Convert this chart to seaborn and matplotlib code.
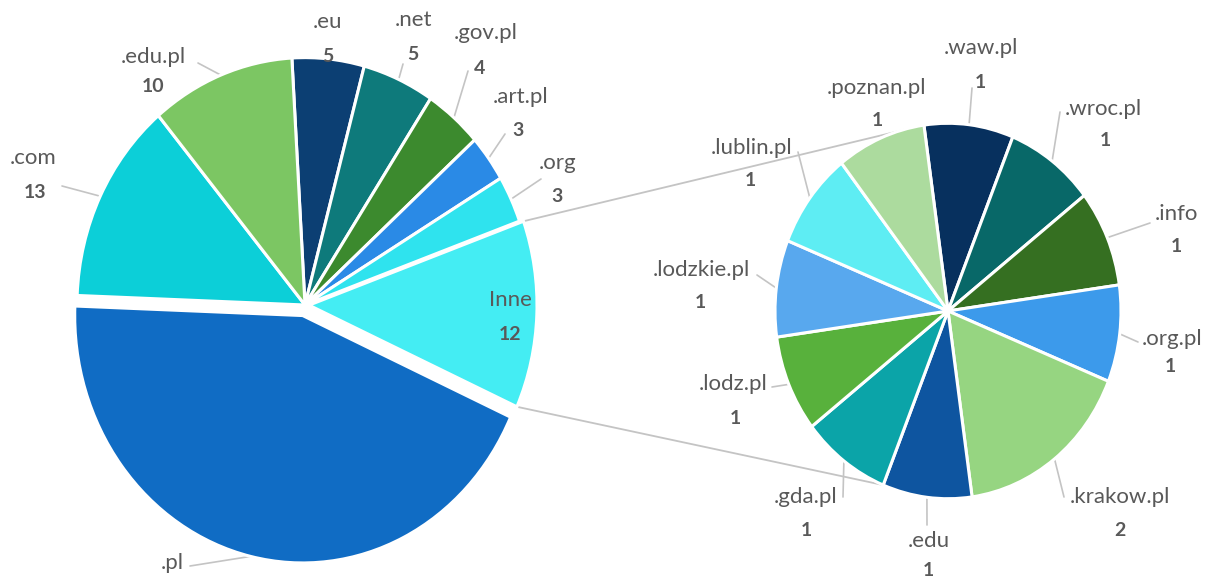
import matplotlib
matplotlib.use("Agg")
import matplotlib.pyplot as plt
import numpy as np
import seaborn as sns

# Main pie: number of sites per domain
main_labels = [".eu", ".net", ".gov.pl", ".art.pl", ".org", "Inne", ".pl", ".com", ".edu.pl"]
main_values = [5, 5, 4, 3, 3, 12, 43, 13, 10]
main_colors = ["#0c3f73", "#0e7a7b", "#3c8a2e", "#2a8ae6", "#2fe3ee",
               "#44edf3", "#106cc4", "#0ccfd8", "#7cc663"]

# Secondary pie: breakdown of "Inne"
sub_labels = [".waw.pl", ".wroc.pl", ".info", ".org.pl", ".krakow.pl", ".edu",
              ".gda.pl", ".lodz.pl", ".lodzkie.pl", ".lublin.pl", ".poznan.pl"]
sub_values = [1, 1, 1, 1, 2, 1, 1, 1, 1, 1, 1]
sub_colors = ["#07305e", "#086868", "#356f21", "#3c9aeb", "#96d581", "#0e55a0",
              "#0ba4a8", "#58b13c", "#58a8ee", "#5eedf3", "#acdb9e"]

# Labels whose value is not printed
hidden_values = {".pl"}

sns.set_theme(style="white")
plt.rcParams["font.family"] = ["Lato", "DejaVu Sans"]

W, H = 1205, 580
SY = 1.085  # vertical scale of the canvas
TEXT = "#595959"
LINE = "#c4c4c4"


def P(x, y):
    """Canvas pixel position -> axes data coordinates."""
    return x, (H - y) / SY


fig = plt.figure(figsize=(W / 100, H / 100), dpi=100)
ax = fig.add_axes([0, 0, 1, 1])

# geometry of the two pies
main_center, main_r, main_start = P(305, 305), 228, 93.3
sub_center, sub_r, sub_start = P(948, 311), 173, 98.0
# pulled-out slices, offset in data units
explode_map = {"Inne": 4, ".pl": 10}
main_explode = [explode_map.get(n, 0) for n in main_labels]

wp = dict(edgecolor="white", linewidth=2.2, antialiased=True)
ax.pie(main_values, colors=main_colors, startangle=main_start, counterclock=False,
       center=main_center, radius=main_r, explode=main_explode, wedgeprops=wp)
ax.pie(sub_values, colors=sub_colors, startangle=sub_start, counterclock=False,
       center=sub_center, radius=sub_r, wedgeprops=wp)
ax.set_aspect("auto")
ax.set_xlim(0, W)
ax.set_ylim(0, H / SY)
ax.axis("off")


def slice_angles(values, start):
    cum = np.concatenate([[0], np.cumsum(values)]) / np.sum(values)
    a = start - 360 * cum
    return a[:-1], a[1:]


def edge_point(center, r, ang, shift=0.0, shift_ang=0.0):
    t = np.deg2rad(ang)
    s = np.deg2rad(shift_ang)
    x = center[0] + r * np.cos(t) + shift * np.cos(s)
    y = center[1] + r * np.sin(t) + shift * np.sin(s)
    return x, y


# connector lines between the "Inne" slice and the secondary pie
m_a0, m_a1 = slice_angles(main_values, main_start)
s_a0, s_a1 = slice_angles(sub_values, sub_start)
k = main_labels.index("Inne")
mid_inne = (m_a0[k] + m_a1[k]) / 2
top_left = edge_point(main_center, main_r, m_a0[k], main_explode[k], mid_inne)
bot_left = edge_point(main_center, main_r, m_a1[k], main_explode[k], mid_inne)
top_right = edge_point(sub_center, sub_r, s_a0[0])
bot_right = edge_point(sub_center, sub_r, s_a1[sub_labels.index(".edu")])
for a, b in [(top_left, top_right), (bot_left, bot_right)]:
    ax.plot([a[0], b[0]], [a[1], b[1]], color=LINE, lw=1.3, zorder=0.5)

# label layout: name centre, value centre, leader anchor (pixels)
main_layout = {
    ".eu": ((327, 22), (328, 57), None),
    ".net": ((413, 20), (413, 55), (403, 64)),
    ".gov.pl": ((486, 33), (480, 68), (468, 71)),
    ".art.pl": ((521, 97), (518, 130), (505, 134)),
    ".org": ((558, 163), (557, 197), (541, 179)),
    "Inne": ((510, 300), (510, 334), None),
    ".pl": ((172, 563), None, (190, 566)),
    ".com": ((33, 158), (35, 193), (62, 186)),
    ".edu.pl": ((153, 57), (153, 86), (198, 63)),
}
sub_layout = {
    ".waw.pl": ((981, 48), (980, 83), (972, 88)),
    ".wroc.pl": ((1103, 109), (1105, 140), (1060, 112)),
    ".info": ((1176, 214), (1176, 247), (1150, 223)),
    ".org.pl": ((1172, 339), (1170, 367), (1138, 342)),
    ".krakow.pl": ((1120, 497), (1120, 531), (1064, 497)),
    ".edu": ((929, 541), (928, 571), (927, 525)),
    ".gda.pl": ((806, 497), (806, 531), (843, 497)),
    ".lodz.pl": ((733, 384), (735, 418), (772, 387)),
    ".lodzkie.pl": ((701, 270), (700, 303), (757, 275)),
    ".lublin.pl": ((752, 148), (750, 181), (798, 152)),
    ".poznan.pl": ((876, 88), (877, 121), None),
}


def draw_labels(labels, values, layout, center, r, a0, a1, explode=None):
    for i, (name, val) in enumerate(zip(labels, values)):
        name_xy, val_xy, anchor = layout[name]
        if anchor is not None:
            mid = (a0[i] + a1[i]) / 2
            shift = explode[i] if explode else 0.0
            ex, ey = edge_point(center, r, mid, shift, mid)
            axp = P(*anchor)
            ax.plot([ex, axp[0]], [ey, axp[1]], color=LINE, lw=1.2, zorder=0.6)
        ax.text(*P(*name_xy), name, ha="center", va="center", fontsize=16,
                color=TEXT, zorder=5)
        if val_xy is not None and name not in hidden_values:
            ax.text(*P(*val_xy), str(val), ha="center", va="center", fontsize=14,
                    fontweight="bold", color=TEXT, zorder=5)


draw_labels(main_labels, main_values, main_layout, main_center, main_r, m_a0, m_a1,
            main_explode)
draw_labels(sub_labels, sub_values, sub_layout, sub_center, sub_r, s_a0, s_a1)

fig.savefig("out.png", dpi=100, facecolor="white")
